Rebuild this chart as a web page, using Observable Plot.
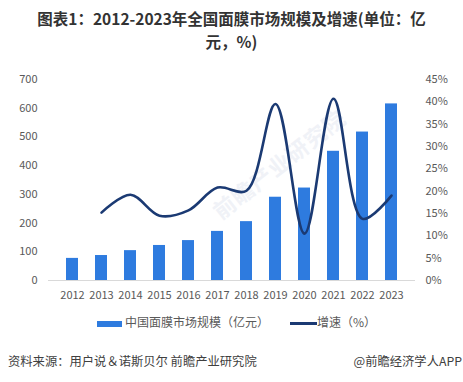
<!DOCTYPE html>
<html><head><meta charset="utf-8">
<script src="https://cdn.jsdelivr.net/npm/d3@7"></script>
<script src="https://cdn.jsdelivr.net/npm/@observablehq/plot@0.6"></script>
<style>
body{margin:0;background:#fff;font-family:"Noto Sans CJK SC","Noto Sans",sans-serif;}
#wrap{position:relative;width:463px;height:382px;overflow:hidden;background:#fff}
.title{position:absolute;left:0;width:463px;text-align:center;font-weight:bold;font-size:15.5px;line-height:16px;height:16px;color:#333;white-space:nowrap}
#chart{position:absolute;top:44px;left:0}
#wm{position:absolute;left:205px;top:200px;transform:rotate(-38deg);transform-origin:left top;font-size:22px;font-weight:bold;color:#f0f2f7;letter-spacing:1px;white-space:nowrap;z-index:0}
.leg{position:absolute;top:314px;font-size:12px;color:#595959;line-height:16px;white-space:nowrap}
.sw{display:inline-block;vertical-align:middle;margin-right:3px}
#src{position:absolute;left:8px;top:352px;font-size:12.3px;color:#404040;white-space:nowrap}
#app{position:absolute;right:1px;top:352px;font-size:12.3px;color:#404040;white-space:nowrap}
</style></head>
<body><div id="wrap">
<div class="title" style="top:10px">图表1：2012-2023年全国面膜市场规模及增速(单位：亿</div>
<div class="title" style="top:33px">元，%)</div>
<div id="wm">前瞻产业研究院</div>
<div id="chart"></div>
<div class="leg" style="left:97px"><span class="sw" style="width:25px;height:6px;background:#2E7BDF"></span>中国面膜市场规模（亿元）</div>
<div class="leg" style="left:290px"><span class="sw" style="width:27px;height:3px;background:#1B3A73;margin-right:0"></span>增速（%）</div>
<div id="src">资料来源：用户说＆诺斯贝尔 前瞻产业研究院</div>
<div id="app">@前瞻经济学人APP</div>
</div>
<script>
const years = ["2012","2013","2014","2015","2016","2017","2018","2019","2020","2021","2022","2023"];
const marketSize = [77, 87, 104, 122, 139, 171, 205, 290, 322, 450, 517, 615];
const growth = [null, 15.2, 19.2, 14.5, 15.7, 20.8, 20.1, 39.5, 10.5, 40.7, 13.8, 19.0];
const leftTicks = [0, 100, 200, 300, 400, 500, 600, 700];
const rightTicks = [0, 5, 10, 15, 20, 25, 30, 35, 40, 45];
const k = 700 / 45;
const data = years.map((y, i) => ({year: y, size: marketSize[i], growth: growth[i]}));
const chart = Plot.plot({
  width: 463, height: 261,
  marginTop: 35, marginBottom: 25, marginLeft: 48, marginRight: 48,
  x: {type: "band", domain: years, padding: 0.57, label: null},
  y: {domain: [0, 700], label: null},
  style: {fontFamily: '"Noto Sans CJK SC","Noto Sans",sans-serif', fontSize: "11px", color: "#595959", background: "transparent"},
  marks: [
    Plot.axisX({tickSize: 0, tickPadding: 11, label: null}),
    Plot.axisY(leftTicks, {anchor: "left", tickSize: 0, tickPadding: 11, label: null}),
    Plot.axisY(rightTicks.map(v => v * k), {anchor: "right", tickSize: 0, tickPadding: 10, label: null, tickFormat: d => Math.round(d / k) + "%"}),
    Plot.barY(data, {x: "year", y: "size", fill: "#2E7BDF"}),
    Plot.ruleY([0], {stroke: "#d9d9d9"}),
    Plot.line(data.filter(d => d.growth != null), {x: "year", y: d => d.growth * k, stroke: "#1B3A73", strokeWidth: 2.6, curve: "catmull-rom"})
  ]
});
document.getElementById("chart").appendChild(chart);
</script>
</body></html>
